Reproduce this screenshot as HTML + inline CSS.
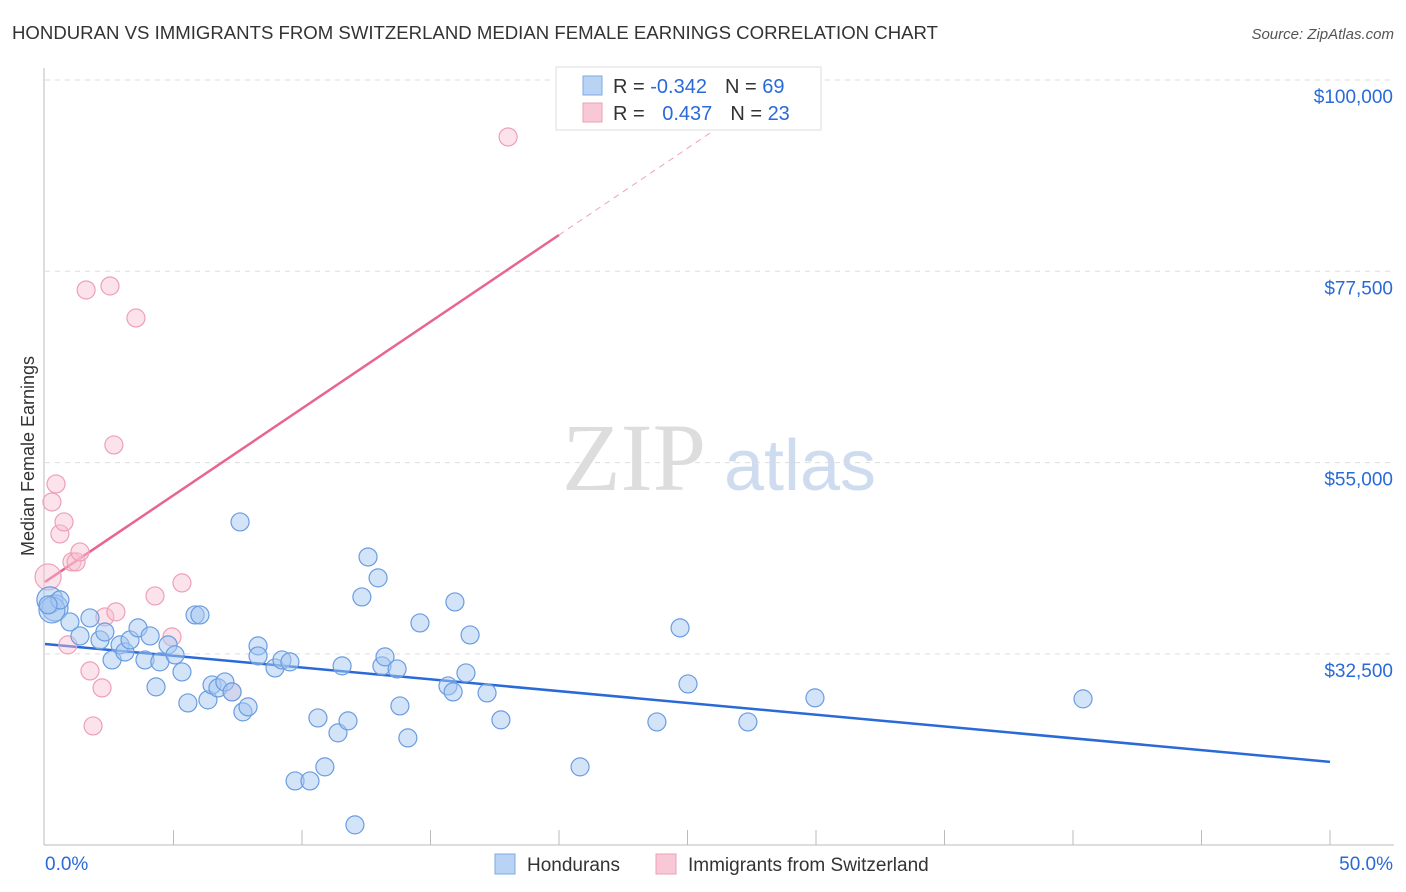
<!DOCTYPE html>
<html><head><meta charset="utf-8"><style>
body{margin:0;background:#fff;font-family:"Liberation Sans",sans-serif;}
svg{display:block}
</style></head><body>
<svg id="chart" width="1406" height="892" xmlns="http://www.w3.org/2000/svg">
<text x="12" y="39" font-size="18.6" fill="#333">HONDURAN VS IMMIGRANTS FROM SWITZERLAND MEDIAN FEMALE EARNINGS CORRELATION CHART</text>
<text x="1394" y="39" font-size="15" fill="#555" font-style="italic" text-anchor="end">Source: ZipAtlas.com</text>
<g><text x="634" y="490" font-size="96" fill="#ddd" font-family="Liberation Serif" text-anchor="middle">ZIP</text><text x="800" y="490" font-size="72" fill="#cfdcf0" text-anchor="middle">atlas</text></g>
<g id="grid"></g><g id="axes"></g><g id="lines"></g><g id="pts"></g>
<text transform="translate(34,456) rotate(-90)" font-size="18" fill="#333" text-anchor="middle">Median Female Earnings</text>
<g>
<rect x="556" y="67" width="265" height="63" fill="#fff" stroke="#ddd"/>
<rect x="583" y="76" width="19" height="19" fill="#b9d3f5" stroke="#7fa8e0"/>
<rect x="583" y="103" width="19" height="19" fill="#f9c8d6" stroke="#eaa0b5"/>
<text x="613" y="93" font-size="20" fill="#333">R = <tspan fill="#2a6ad8">-0.342</tspan><tspan dx="18">N = </tspan><tspan fill="#2a6ad8">69</tspan></text>
<text x="613" y="120" font-size="20" fill="#333">R = <tspan dx="12" fill="#2a6ad8">0.437</tspan><tspan dx="18">N = </tspan><tspan fill="#2a6ad8">23</tspan></text>
</g>
<g>
<rect x="495" y="854" width="20" height="20" fill="#b9d3f5" stroke="#7fa8e0"/>
<text x="527" y="871" font-size="19" fill="#333">Hondurans</text>
<rect x="656" y="854" width="20" height="20" fill="#f9c8d6" stroke="#eaa0b5"/>
<text x="688" y="871" font-size="19" fill="#333">Immigrants from Switzerland</text>
</g>
</svg>
<script>
const yTicks=[100000,77500,55000,32500];
const yTickLabels=["$100,000","$77,500","$55,000","$32,500"];
const blueX=[0.19,0.39,0.27,0.58,0.97,1.36,1.75,2.14,2.33,2.61,2.92,3.11,3.31,3.62,3.89,4.09,4.32,4.47,4.79,5.06,5.33,5.56,5.84,6.03,6.34,6.50,6.73,7.00,7.28,7.59,7.70,7.90,8.29,8.29,8.95,9.22,9.53,9.73,10.31,10.62,10.89,11.40,11.56,11.79,12.06,12.33,12.57,12.96,13.11,13.23,13.70,13.81,14.12,14.59,15.68,15.88,15.95,16.38,16.54,17.20,17.74,20.82,23.81,24.71,25.02,27.35,29.96,40.39,0.12];
const blueY=[38850,37900,37670,38850,36260,34610,36730,34140,35080,31790,33560,32730,34140,35560,31790,34610,28620,31560,33560,32380,30380,26730,37080,37080,27090,28850,28500,29200,28030,48020,25680,26270,33440,32260,30850,31790,31560,17560,17560,24970,19210,23210,31090,24620,12390,39200,43900,41440,31090,32150,30730,26380,22620,36140,28730,28030,38610,30260,34730,27910,24740,19210,24500,35560,28970,24500,27330,27210,38260];
const pinkX=[0.12,0.27,0.43,0.58,0.74,0.89,1.05,1.21,1.36,1.60,1.75,1.87,2.22,2.33,2.53,2.68,2.76,3.54,4.28,4.94,5.33,7.28,18.02];
const pinkY=[41550,50370,52490,46610,48020,33560,43320,43320,44490,75300,30500,24030,28500,36850,75770,57080,37440,72010,39320,34500,40850,28030,93300];
const blueLine=[[0,33670],[50,19800]];
const pinkLine=[[0,40960],[20,81770]];
const pinkDash=[[20,81770],[26.65,95340]];
const NS="http://www.w3.org/2000/svg";
const X=p=>45+p/50*1285;
const Y=v=>80+(100000-v)/22500*191.3;
function mk(t,a,parent){const e=document.createElementNS(NS,t);for(const k in a)e.setAttribute(k,a[k]);document.getElementById(parent).appendChild(e);return e;}
yTicks.forEach((v,i)=>{
 const l=mk('line',{x1:45,x2:1394,y1:Y(v),y2:Y(v),stroke:'#ddd','stroke-dasharray':'5,5'},'grid');
 
 
 const t=mk('text',{x:1393,y:Y(v)+23,'font-size':19,fill:'#2a6ad8','text-anchor':'end'},'axes');t.textContent=yTickLabels[i];
 
 
});
const ax=mk('line',{x1:44,x2:44,y1:68,y2:845,stroke:'#bbb'},'axes');


const bx=mk('line',{x1:44,x2:1394,y1:845,y2:845,stroke:'#bbb'},'axes');


for(let p=5;p<=50;p+=5){const t=mk('line',{x1:X(p),x2:X(p),y1:830,y2:845,stroke:'#bbb'},'axes');
 
 }
let t0=mk('text',{x:45,y:870,'font-size':19,fill:'#2a6ad8'},'axes');t0.textContent='0.0%';


let t1=mk('text',{x:1393,y:870,'font-size':19,fill:'#2a6ad8','text-anchor':'end'},'axes');t1.textContent='50.0%';


function drawPts(xs,ys,fill,stroke,name,nBig){xs.forEach((x,i)=>{const big=i<nBig;const c=mk('circle',{cx:X(x),cy:Y(ys[i]),r:big?13:9,fill:fill,stroke:stroke,'stroke-width':1.2},'pts');
 
 });}
drawPts(pinkX,pinkY,'rgba(249,190,208,0.45)','#eda0b8','switzerland-point',1);
drawPts(blueX,blueY,'rgba(168,200,242,0.5)','#6a9de0','honduran-point',3);
const bl=mk('line',{x1:X(blueLine[0][0]),y1:Y(blueLine[0][1]),x2:X(blueLine[1][0]),y2:Y(blueLine[1][1]),stroke:'#2a6ad8','stroke-width':2.5},'lines');


const pl=mk('line',{x1:X(pinkLine[0][0]),y1:Y(pinkLine[0][1]),x2:X(pinkLine[1][0]),y2:Y(pinkLine[1][1]),stroke:'#e86590','stroke-width':2.5},'lines');


const pd=mk('line',{x1:X(pinkDash[0][0]),y1:Y(pinkDash[0][1]),x2:X(pinkDash[1][0]),y2:Y(pinkDash[1][1]),stroke:'#f0a0b8','stroke-width':1,'stroke-dasharray':'6,5'},'lines');


</script>
</body></html>
